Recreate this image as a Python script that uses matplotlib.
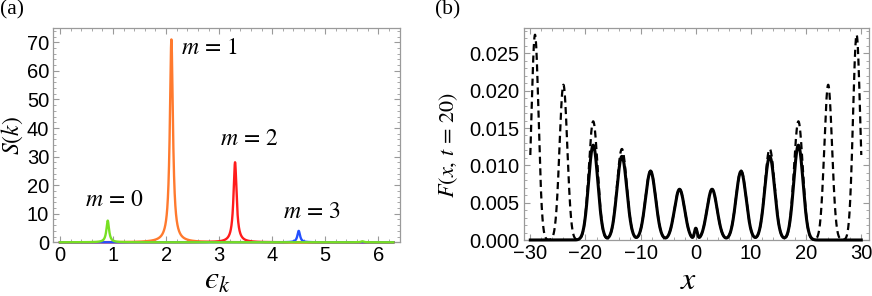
import numpy as np
import matplotlib
matplotlib.use("Agg")
import matplotlib.pyplot as plt
from matplotlib.ticker import MultipleLocator

plt.rcParams['mathtext.fontset'] = 'stix'
plt.rcParams['font.family'] = ['Liberation Sans', 'DejaVu Sans']

# ---- panel (a) data: Lorentzian peaks of S(k) ----
peak_labels = ['m = 0', 'm = 1', 'm = 2', 'm = 3']
peak_centers = [0.90, 2.10, 3.30, 4.50]
peak_heights = [7.6, 71.0, 28.0, 4.0]
peak_widths = [0.030, 0.035, 0.035, 0.030]
peak_colors = ['#77e022', '#ff7a2e', '#ff1c1c', '#2450ff']
extra_green_center = 5.70
extra_green_height = 0.35
label_pos_x = [0.48, 2.29, 3.02, 4.20]
label_pos_y = [14.8, 68.0, 36.0, 10.7]

# ---- panel (b) data: Gaussian-like peaks of F(x, t=20) ----
solid_centers = [-18.6, -13.4, -8.2, -2.95, 0.0, 2.95, 8.2, 13.4, 18.6]
solid_heights = [0.0127, 0.0112, 0.0092, 0.0068, 0.0015, 0.0068, 0.0092, 0.0112, 0.0127]
solid_sigmas = [0.85, 0.90, 0.92, 0.92, 0.25, 0.92, 0.92, 0.90, 0.85]
dashed_centers = [-29.15, -24.0, -18.6, -13.4, -8.2, -2.95, 0.0, 2.95, 8.2, 13.4, 18.6, 24.0, 29.15]
dashed_heights = [0.0275, 0.0208, 0.0159, 0.0122, 0.0093, 0.0068, 0.0015, 0.0068, 0.0093, 0.0122, 0.0159, 0.0208, 0.0275]
dashed_sigmas = [0.64, 0.70, 0.80, 0.88, 0.92, 0.92, 0.25, 0.92, 0.92, 0.88, 0.80, 0.70, 0.64]

FRAME = '#9a9a9a'

fig = plt.figure(figsize=(8.72, 2.96), dpi=100)
axA = fig.add_axes([53.3/872, 1-242.3/296, (400-53.3)/872, (242.3-28)/296])
axB = fig.add_axes([523.7/872, 1-240/296, (869-523.7)/872, (240-28)/296])

def style(ax):
    for s in ax.spines.values():
        s.set_color(FRAME)
        s.set_linewidth(0.9)
    ax.tick_params(which='both', direction='in', top=True, right=True,
                   color=FRAME, labelsize=14.5, labelcolor='black', pad=3)
    ax.tick_params(which='major', length=4.5, width=0.8)
    ax.tick_params(which='minor', length=2.5, width=0.6)

# panel (a)
ek = np.linspace(0, 2*np.pi, 6000)
def lor(c, h, g):
    return h * g**2 / ((ek - c)**2 + g**2)
order = [1, 2, 3, 0]
for i in order:
    y = lor(peak_centers[i], peak_heights[i], peak_widths[i])
    if i == 0:
        y = y + lor(extra_green_center, extra_green_height, 0.03)
    axA.plot(ek, y, color=peak_colors[i], lw=1.7, clip_on=False, zorder=3 + (i == 0))
for lab, lx, ly in zip(peak_labels, label_pos_x, label_pos_y):
    name, val = lab.split(' = ')
    axA.text(lx, ly, r'$%s\,=\,%s$' % (name, val), fontsize=17, ha='left', va='center')
axA.set_xlim(-0.126, 2*np.pi + 0.126)
axA.set_ylim(0, 75)
axA.xaxis.set_major_locator(MultipleLocator(1))
axA.xaxis.set_minor_locator(MultipleLocator(0.2))
axA.yaxis.set_major_locator(MultipleLocator(10))
axA.yaxis.set_minor_locator(MultipleLocator(2))
style(axA)

# panel (b)
xs = np.linspace(-30, 30, 6000)
def gsum(cs, hs, ss):
    y = np.zeros_like(xs)
    for c, h, s in zip(cs, hs, ss):
        y += h * np.exp(-(xs - c)**2 / (2*s**2))
    return y
axB.plot(xs, gsum(dashed_centers, dashed_heights, dashed_sigmas), color='black',
         lw=1.6, ls=(0, (3.2, 2.0)), clip_on=False, zorder=3)
axB.plot(xs, gsum(solid_centers, solid_heights, solid_sigmas), color='black',
         lw=2.2, clip_on=False, zorder=4)
axB.set_xlim(-31.2, 31.4)
axB.set_ylim(0, 0.0284)
axB.xaxis.set_major_locator(MultipleLocator(10))
axB.xaxis.set_minor_locator(MultipleLocator(2))
axB.yaxis.set_major_locator(MultipleLocator(0.005))
axB.yaxis.set_minor_locator(MultipleLocator(0.001))
axB.yaxis.set_major_formatter(matplotlib.ticker.FormatStrFormatter('%.3f'))
axB.xaxis.set_major_formatter(matplotlib.ticker.FuncFormatter(
    lambda v, p: ('\u2212%d' % -v) if v < 0 else '%d' % v))
style(axB)

# axis labels
fig.text(217/872, 1-281/296, '$\u03f5_k$', fontsize=23, ha='center', va='center')
fig.text(12/872, 1-136/296, r'$S(k)$', fontsize=17, ha='center', va='center', rotation=90)
fig.text(689/872, 1-281/296, r'$x$', fontsize=23, ha='center', va='center')
fig.text(449/872, 1-145/296, r'$F(x,\, t\,=\,20)$', fontsize=16, ha='center', va='center', rotation=90)

fig.text(0/872, 1-10/296, '(a)', fontsize=15.5, family='Liberation Serif', ha='left', va='center')
fig.text(435/872, 1-10/296, '(b)', fontsize=15.5, family='Liberation Serif', ha='left', va='center')

fig.savefig('out.png', dpi=100)
